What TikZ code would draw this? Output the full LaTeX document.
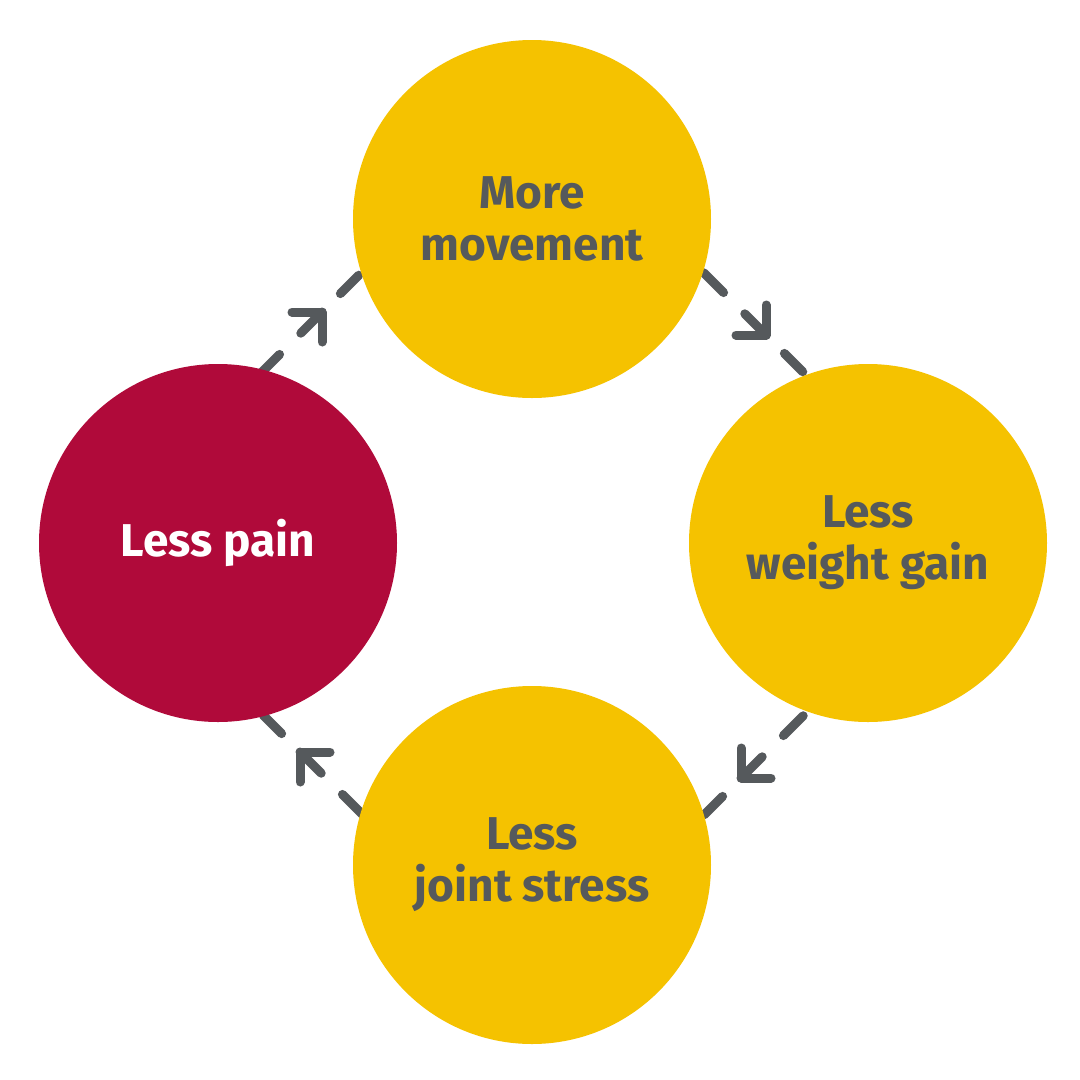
\documentclass[tikz,border=0pt]{standalone}
\usepackage{fontspec}
\setmainfont{Fira Sans}
\usetikzlibrary{calc}
\definecolor{yel}{HTML}{F5C200}
\definecolor{red}{HTML}{B00A3A}
\definecolor{gr}{HTML}{55595C}
\begin{document}
\begin{tikzpicture}[x=1pt,y=-1pt,
 circ/.style={circle,minimum size=358pt,inner sep=0pt,align=center,font=\fontsize{46}{52}\selectfont\bfseries,text=gr,fill=yel},
 ln/.style={draw=gr,line width=9pt,line cap=round,line join=round}]
\useasboundingbox (0,0) rectangle (1080,1080);
\fill[white] (0,0) rectangle (1080,1080);
\foreach \n/\x/\y/\a in {a/322/312/-45, b/766/335/45, c/741/778/135, d/300/752/225}{
  \coordinate (\n) at (\x,\y);
  \draw[ln] ($(\n)+(\a+180:60)$) -- ($(\n)+(\a+180:88)$);
  \draw[ln] ($(\n)+(\a:26)$) -- ($(\n)+(\a:52)$);
  \draw[ln] ($(\n)+(\a+180:30)$) -- (\n);
  \draw[ln] ($(\n)+(\a+135:30)$) -- (\n) -- ($(\n)+(\a-135:30)$);
}
\node[circ] (top) at (532,219) {More\\movement};
\node[circ] (right) at (868,543) {Less\\weight gain};
\node[circ] (bottom) at (532,865) {Less\\joint stress};
\node[circ,fill=red,text=white] (left) at (218,543) {Less pain};
\end{tikzpicture}
\end{document}
